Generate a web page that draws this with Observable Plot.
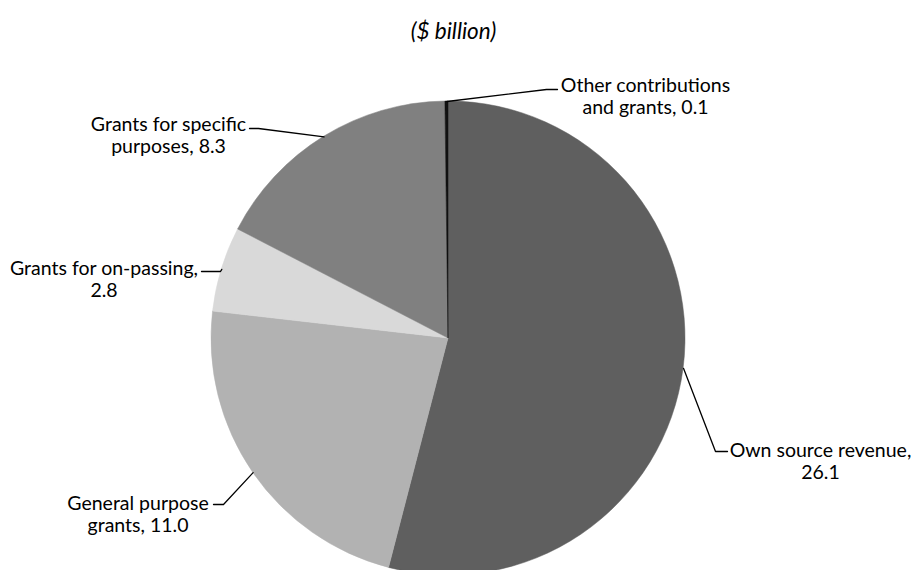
<!DOCTYPE html>
<html><head><meta charset="utf-8">
<script src="https://cdn.jsdelivr.net/npm/d3@7"></script>
<script src="https://cdn.jsdelivr.net/npm/@observablehq/plot@0.6"></script>
<style>body{margin:0;background:#fff} #chart svg{display:block}</style>
</head><body><div id="chart"></div>
<script>
// ---- data ----
const categories = ["Own source revenue", "General purpose grants", "Grants for on-passing", "Grants for specific purposes", "Other contributions and grants"];
const values = [26.1, 11.0, 2.8, 8.3, 0.1];
const labels = ["Own source revenue,\n26.1", "General purpose\ngrants, 11.0", "Grants for on-passing,\n2.8", "Grants for specific\npurposes, 8.3", "Other contributions\nand grants, 0.1"];
const colors = ["#5f5f5f", "#b2b2b2", "#d9d9d9", "#808080", "#111111"];
const title = "($ billion)";

// ---- layout (pixels) ----
const W = 915, H = 570;
const cx = 448, cy = 338, R = 237;
const labelLayout = [
  {cx: 820, cy: 460, path: [[715, 451], [727, 451]]},
  {cx: 137.5, cy: 513, path: [[223, 504], [213, 504]]},
  {cx: 103.5, cy: 278, path: [[220, 271], [201, 271]]},
  {cx: 168, cy: 134.8, path: [[258, 128], [249, 128]]},
  {cx: 645, cy: 95.8, path: [[546, 89], [557, 89]]}
];
const FONT = "Lato, 'Open Sans', sans-serif";
const FS = 19.5;

const data = categories.map((c, i) => ({category: c, value: values[i], label: labels[i], color: colors[i]}));
const arcs = d3.pie().sort(null).value(d => d.value)(data);

// leader lines: from slice mid-angle on the rim to label
const leaders = [];
arcs.forEach((a, i) => {
  const m = (a.startAngle + a.endAngle) / 2;
  const pts = [[cx + R * Math.sin(m), cy - R * Math.cos(m)], ...labelLayout[i].path];
  pts.forEach(([x, y]) => leaders.push({i, x, y}));
});
const textRows = data.map((d, i) => ({label: d.label, x: labelLayout[i].cx, y: labelLayout[i].cy}));

function pieMark(index, scales) {
  const g = d3.create("svg:g")
    .attr("transform", `translate(${scales.x(cx)},${scales.y(cy)})`);
  const r = scales.x(cx + R) - scales.x(cx);
  const arc = d3.arc().innerRadius(0).outerRadius(r);
  g.selectAll("path").data(arcs).join("path")
    .attr("d", arc)
    .attr("fill", d => d.data.color)
    .attr("stroke", d => d.data.color)
    .attr("stroke-width", 0.5);
  return g.node();
}

const chart = Plot.plot({
  width: W, height: H,
  margin: 0,
  x: {domain: [0, W], range: [0, W], axis: null},
  y: {domain: [0, H], range: [0, H], axis: null},
  style: {fontFamily: FONT, background: "#fff"},
  marks: [
    pieMark,
    Plot.line(leaders, {x: "x", y: "y", z: "i", stroke: "#000", strokeWidth: 1.3}),
    Plot.text(textRows, {x: "x", y: "y", text: "label", textAnchor: "middle", lineAnchor: "middle",
      fontSize: FS, lineHeight: 22 / FS, fill: "#000", fontFamily: FONT}),
    Plot.text([title], {x: () => 453, y: () => 31, text: d => d, fontSize: 22.5, fontStyle: "italic",
      fill: "#000", fontFamily: FONT})
  ]
});
document.getElementById("chart").appendChild(chart);
</script>
</body></html>
